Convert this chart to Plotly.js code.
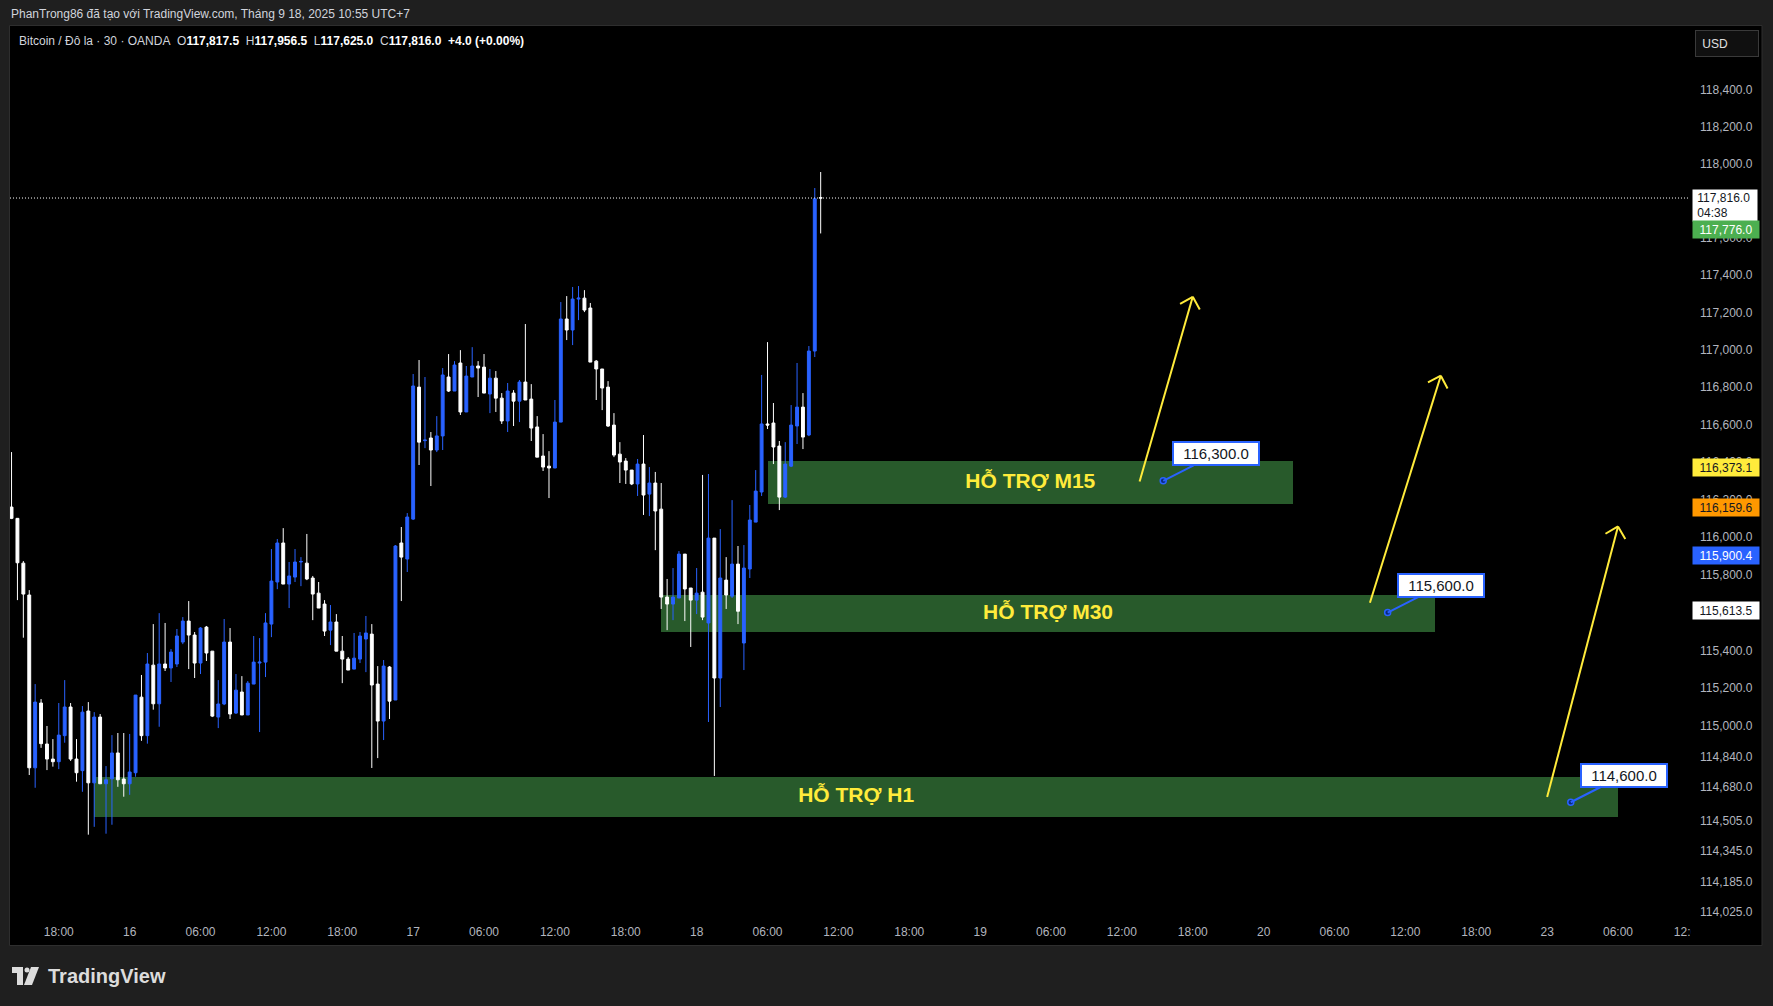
<!DOCTYPE html>
<html>
<head>
<meta charset="utf-8">
<script src="https://cdn.plot.ly/plotly-3.0.1.min.js"></script>
<style>html,body{margin:0;padding:0;background:#1f1f1f;overflow:hidden}#chart{width:1773px;height:1006px}</style>
</head>
<body>
<div id="chart"></div>
<script>
// ---------- DATA (BTC/USD, OANDA, 30-minute bars) ----------
const firstBar = -8; // bar index of the first candle (bar 0 = Sep 15, 18:00)
const open = [116160,116100,115862,115693,114781,115122,114906,114827,
114813,114950,115101,114827,114766,115080,114702,115048,114697,114723,
114859,114722,114697,114755,115153,114950,115322,115118,115328,115307,
115328,115444,115555,115481,115333,115523,115396,115048,115117,115444,
115069,115180,115059,115222,115333,115338,115539,115762,115969,115751,
115788,115868,115862,115783,115703,115645,115507,115550,115396,115354,
115301,115354,115460,115486,115222,115027,115312,115138,115969,115884,
116096,116800,116514,116528,116464,116539,116854,116779,116929,116667,
116854,116913,116907,116763,116848,116741,116619,116768,116725,116827,
116736,116587,116432,116378,116368,116613,117165,117106,117272,117277,
117224,116939,116897,116800,116597,116442,116405,116357,116283,116389,
116229,116288,116149,115682,115645,115677,115910,115730,115666,115708,
115545,115995,115254,115772,115687,115857,115439,115831,116080,116240,
116603,116608,116485,116213,116378,116592,116693,116544,116993,117817.5];
const high = [116453,116102,115873,115719,115222,115143,115001,114932,
115122,115243,115122,114932,115106,115127,115074,115064,114790,114953,
114964,114964,114959,115164,115270,115386,115539,115597,115545,115407,
115513,115576,115661,115497,115523,115529,115396,115243,115566,115518,
115275,115264,115238,115476,115465,115597,115937,115990,116048,115868,
115937,115894,116017,115794,115762,115666,115640,115592,115476,115365,
115492,115497,115582,115539,115317,115349,115317,115958,116054,116128,
116870,116945,116854,116560,116645,116902,116977,116939,116998,116913,
117014,116939,116977,116897,116886,116768,116822,116784,116838,117138,
116816,116645,116549,116458,116731,117256,117288,117337,117342,117320,
117251,116945,116897,116832,116661,116506,116421,116357,116416,116544,
116373,116347,116288,115778,115836,115926,115910,115730,115836,116331,
116336,115995,116043,115894,116197,115953,115958,116171,116357,116865,
117041,116715,116512,116506,116704,116929,116768,117020,117870,117956.5];
const low = [116096,115666,115467,114743,114676,114886,114769,114787,
114774,114913,114817,114708,114655,114430,114471,114697,114435,114482,
114681,114629,114639,114734,114923,114908,115087,114997,115291,115233,
115312,115433,115301,115254,115275,115344,115048,114990,115111,115038,
115064,115059,115059,115222,114969,115259,115470,115724,115751,115624,
115762,115740,115772,115560,115624,115476,115428,115396,115227,115296,
115301,115333,115285,114780,114832,114927,115038,115138,115661,115815,
116091,116384,116474,116272,116453,116464,116774,116779,116651,116667,
116854,116747,116768,116661,116667,116603,116560,116592,116613,116731,
116512,116426,116352,116208,116368,116613,117052,117025,117159,117202,
116934,116731,116677,116587,116426,116288,116283,116277,116219,116118,
116112,115931,115619,115507,115560,115677,115555,115418,115592,115560,
115022,114738,115101,115619,115677,115539,115296,115783,116080,116219,
116576,116389,116144,116208,116373,116496,116469,116538,116961,117625];
const close = [116100,115864,115698,114781,115127,114908,114827,114813,
114953,115101,114827,114755,115074,114702,115048,114697,114718,114859,
114718,114697,114759,115164,114950,115328,115118,115328,115307,115391,
115476,115555,115481,115333,115518,115386,115053,115117,115444,115064,
115190,115059,115227,115338,115338,115545,115767,115969,115751,115794,
115868,115871,115778,115698,115624,115502,115550,115396,115354,115296,
115359,115476,115492,115217,115027,115317,115132,115953,115894,116107,
116806,116506,116517,116464,116539,116865,116779,116918,116667,116859,
116913,116902,116768,116848,116741,116619,116779,116725,116827,116731,
116581,116426,116373,116368,116613,117165,117106,117272,117277,117213,
116934,116897,116795,116592,116437,116400,116357,116283,116389,116224,
116288,116139,115682,115645,115682,115910,115725,115666,115703,115576,
115995,115254,115783,115693,115857,115607,115836,116091,116245,116603,
116597,116480,116213,116389,116597,116693,116533,116993,117812,117816];

const timeTickLabels = ['18:00','16','06:00','12:00','18:00','17','06:00','12:00','18:00','18','06:00','12:00',
  '18:00','19','06:00','12:00','18:00','20','06:00','12:00','18:00','23','06:00','12:00'];
const barsPerTick = 12;
const priceTicks = [118400,118200,118000,117800,117600,117400,117200,117000,116800,116600,116400,116200,
  116000,115800,115600,115400,115200,115000,114840,114680,114505,114345,114185,114025];

const zoneNames = ['HỖ TRỢ M15','HỖ TRỢ M30','HỖ TRỢ H1'];
const zoneTop = [116405, 115693, 114732];
const zoneBottom = [116178, 115498, 114522];
const zoneStart = [120, 102, 6];
const zoneEnd = [209, 233, 264];

const calloutBar = [187, 225, 256];
const calloutPrice = [116300, 115600, 114600];

const arrowFromBar = [183, 222, 252];
const arrowFromPrice = [116296, 115652, 114627];
const arrowToBar = [192, 234, 264];
const arrowToPrice = [117284, 116861, 116057];

const tagValues = [117776.0, 116373.1, 116159.6, 115900.4, 115613.5];
const tagColors = ['#4caf50', '#ffeb3b', '#ff9800', '#2962ff', '#ffffff'];
const tagTextColors = ['#ffffff', '#131722', '#131722', '#ffffff', '#131722'];
const countdown = '04:38';

// ---------- GEOMETRY ----------
const F = 'Liberation Sans, Arial, sans-serif';
const ML = 10, MR = 83, MT = 26, MB = 88, WW = 1773, HH = 1006;
const W = WW - ML - MR, H = HH - MT - MB;
const xr = [-8.26, 276.19];
const yr = [Math.log10(113994), Math.log10(118748)];
const pxX = p => (p - ML) / W;
const pxY = p => (MT + H - p) / H;
const dataPx = (x, y) => [ML + (x - xr[0]) / (xr[1] - xr[0]) * W, MT + (yr[1] - Math.log10(y)) / (yr[1] - yr[0]) * H];
const fmt = v => v.toLocaleString('en-US', {minimumFractionDigits: 1, maximumFractionDigits: 1});
const L10 = Math.log10;

const bars = open.map((_, i) => firstBar + i);
const last = close.length - 1;

// ---------- TRACES ----------
const traces = [];
// support zones as bars (bar layer sits beneath the candles)
traces.push({type: 'bar',
  x: zoneNames.map((_, k) => (zoneStart[k] + zoneEnd[k]) / 2),
  width: zoneNames.map((_, k) => zoneEnd[k] - zoneStart[k]),
  base: zoneBottom,
  y: zoneNames.map((_, k) => zoneTop[k] - zoneBottom[k]),
  marker: {color: '#285a2b', line: {width: 0}}, hoverinfo: 'skip'});
traces.push({type: 'candlestick', x: bars, open: open, high: high, low: low, close: close,
  increasing: {line: {color: '#2962ff', width: 1}, fillcolor: '#2962ff'},
  decreasing: {line: {color: '#ffffff', width: 1}, fillcolor: '#ffffff'},
  whiskerwidth: 0, hoverinfo: 'skip'});
traces.push({type: 'scatter', mode: 'lines', x: [xr[0], xr[1]], y: [close[last], close[last]],
  line: {color: '#ffffff', width: 1, dash: '1px,2px'}, hoverinfo: 'skip'});
const ax = [], ay = [];
arrowFromBar.forEach((b, k) => {
  ax.push(b, arrowToBar[k], null);
  ay.push(arrowFromPrice[k], arrowToPrice[k], null);
});
traces.push({type: 'scatter', mode: 'lines', x: ax, y: ay, line: {color: '#ffeb3b', width: 2}, hoverinfo: 'skip', connectgaps: false});
traces.push({type: 'scatter', mode: 'text',
  x: zoneNames.map((_, k) => (zoneStart[k] + zoneEnd[k]) / 2),
  y: zoneNames.map((_, k) => Math.sqrt(zoneTop[k] * zoneBottom[k])),
  text: zoneNames, textposition: 'middle center',
  textfont: {family: F, size: 21, color: '#ffeb3b', weight: 'bold'}, hoverinfo: 'skip'});
traces.push({type: 'scatter', mode: 'markers', x: calloutBar, y: calloutPrice,
  marker: {size: 6, color: '#0b2a7a', line: {color: '#2962ff', width: 1.5}}, hoverinfo: 'skip'});

// ---------- ANNOTATIONS ----------
const ann = [];
ann.push({xref: 'paper', yref: 'paper', x: pxX(9), y: pxY(14), xanchor: 'left', yanchor: 'middle', showarrow: false,
  text: 'PhanTrong86 đã tạo với TradingView.com, Tháng 9 18, 2025 10:55 UTC+7',
  font: {family: F, size: 12, color: '#d1d4dc'}});
const chg = close[last] - close[last - 1];
const pct = chg / close[last - 1] * 100;
const val = s => '<span style="color:#ffffff"><b>' + s + '</b></span>';
const sp = '\u00a0\u00a0';
ann.push({xref: 'paper', yref: 'paper', x: pxX(17), y: pxY(41), xanchor: 'left', yanchor: 'middle', showarrow: false,
  text: 'Bitcoin / Đô la · 30 · OANDA' + sp + 'O' + val(fmt(open[last])) + sp + 'H' + val(fmt(high[last])) + sp +
    'L' + val(fmt(low[last])) + sp + 'C' + val(fmt(close[last])) + sp +
    val((chg >= 0 ? '+' : '') + chg.toFixed(1) + ' (' + (pct >= 0 ? '+' : '') + pct.toFixed(2) + '%)'),
  font: {family: F, size: 12, color: '#d1d4dc'}});
ann.push({xref: 'paper', yref: 'paper', x: pxX(1695), y: pxY(43.5), xanchor: 'left', yanchor: 'middle', showarrow: false,
  text: '\u00a0USD', align: 'left', width: 56, height: 19, borderpad: 3, borderwidth: 1, bordercolor: '#3a3a3a', bgcolor: '#101010',
  font: {family: F, size: 12, color: '#e0e0e0'}});
// last price tag with countdown
ann.push({xref: 'paper', yref: 'y', x: pxX(1692), y: L10(close[last]), xanchor: 'left', yanchor: 'top', yshift: 9,
  showarrow: false, text: '\u00a0' + fmt(close[last]) + '<br>\u00a0' + countdown, align: 'left', width: 62, height: 29, borderpad: 1,
  bgcolor: '#ffffff', font: {family: F, size: 12, color: '#131722'}});
tagValues.forEach((v, i) => {
  ann.push({xref: 'paper', yref: 'y', x: pxX(1692), y: L10(v), xanchor: 'left', yanchor: 'middle', yshift: i === 0 ? -24 : 0,
    showarrow: false, text: fmt(v), align: 'center', width: 64, height: 15, borderpad: 1,
    bgcolor: tagColors[i], font: {family: F, size: 12, color: tagTextColors[i]}});
});
// callouts
calloutBar.forEach((b, k) => {
  ann.push({x: b, y: L10(calloutPrice[k]), xref: 'x', yref: 'y', ax: 53, ay: -27, showarrow: true, arrowhead: 0,
    arrowwidth: 2, arrowcolor: '#2962ff', standoff: 0, text: fmt(calloutPrice[k]), bgcolor: '#ffffff',
    bordercolor: '#2962ff', borderwidth: 2, borderpad: 3, width: 78, height: 15,
    font: {family: F, size: 15, color: '#131722'}});
});
// yellow arrow heads (open chevrons)
arrowToBar.forEach((b, k) => {
  const p0 = dataPx(arrowFromBar[k], arrowFromPrice[k]);
  const p1 = dataPx(b, arrowToPrice[k]);
  let dx = p0[0] - p1[0], dy = p0[1] - p1[1];
  const len = Math.hypot(dx, dy); dx /= len; dy /= len;
  const c = Math.SQRT1_2, wl = 14.5;
  const wings = [[(dx * c - dy * c) * wl, (dx * c + dy * c) * wl], [(dx * c + dy * c) * wl, (-dx * c + dy * c) * wl]];
  wings.forEach(w => ann.push({x: b, y: L10(arrowToPrice[k]), xref: 'x', yref: 'y', ax: w[0], ay: w[1],
    showarrow: true, arrowhead: 0, arrowwidth: 2, arrowcolor: '#ffeb3b', standoff: 0, text: ' ',
    borderpad: 0, borderwidth: 0, font: {size: 1, color: 'rgba(0,0,0,0)'}}));
});
ann.push({xref: 'paper', yref: 'paper', x: pxX(46), y: pxY(976), xanchor: 'left', yanchor: 'middle', showarrow: false,
  text: '<b>TradingView</b>', font: {family: F, size: 20, color: '#dcdcdc'}});

// ---------- SHAPES (frame & logo) ----------
const shapes = [
  {type: 'rect', xref: 'paper', yref: 'paper', x0: pxX(9.5), x1: pxX(1762), y0: pxY(945.5), y1: pxY(25.5),
    fillcolor: '#000000', line: {color: '#2e2e2e', width: 1}, layer: 'below'},
  {type: 'rect', xref: 'paper', yref: 'paper', x0: pxX(1690.5), x1: pxX(1761), y0: pxY(944.5), y1: pxY(919.5),
    fillcolor: '#000000', line: {width: 0}, layer: 'above'},
  {type: 'path', xref: 'paper', yref: 'paper', xsizemode: 'pixel', ysizemode: 'pixel', xanchor: pxX(12), yanchor: pxY(976),
    path: 'M0,9 H11 V-9 H5 V3 H0 Z', fillcolor: '#dcdcdc', line: {width: 0}},
  {type: 'circle', xref: 'paper', yref: 'paper', xsizemode: 'pixel', ysizemode: 'pixel', xanchor: pxX(12), yanchor: pxY(976),
    x0: 12.5, x1: 17.5, y0: 3.5, y1: 8.5, fillcolor: '#dcdcdc', line: {width: 0}},
  {type: 'path', xref: 'paper', yref: 'paper', xsizemode: 'pixel', ysizemode: 'pixel', xanchor: pxX(12), yanchor: pxY(976),
    path: 'M19,9 H27 L20,-9 H12 Z', fillcolor: '#dcdcdc', line: {width: 0}}
];

const layout = {
  width: WW, height: HH, margin: {l: ML, r: MR, t: MT, b: MB, pad: 0},
  paper_bgcolor: '#1f1f1f', plot_bgcolor: '#000000', showlegend: false,
  font: {family: F, size: 12, color: '#b2b5be'},
  boxgap: 0.3, bargap: 0,
  xaxis: {range: xr, tickmode: 'array', tickvals: timeTickLabels.map((_, i) => i * barsPerTick), ticktext: timeTickLabels,
    showgrid: false, zeroline: false, showline: false, ticks: '', ticklabelstandoff: 5,
    tickfont: {family: F, size: 12, color: '#b2b5be'}, rangeslider: {visible: false}, fixedrange: true},
  yaxis: {type: 'log', range: yr, side: 'right', tickmode: 'array', tickvals: priceTicks, ticktext: priceTicks.map(fmt),
    showgrid: false, zeroline: false, showline: false, ticks: '', ticklabelstandoff: 9,
    tickfont: {family: F, size: 12, color: '#b2b5be'}, fixedrange: true},
  shapes: shapes,
  annotations: ann
};

Plotly.newPlot('chart', traces, layout, {displayModeBar: false, staticPlot: true});
</script>
</body>
</html>
